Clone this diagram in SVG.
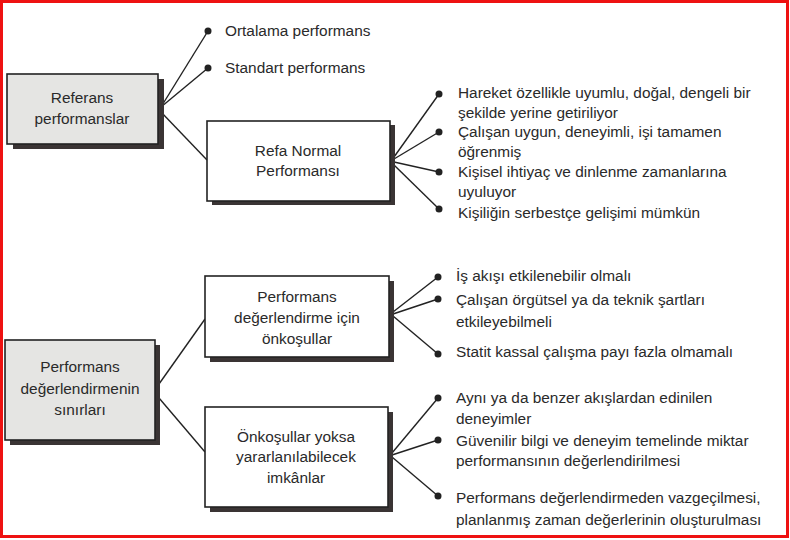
<svg xmlns="http://www.w3.org/2000/svg" width="790" height="540" viewBox="0 0 790 540">
<style>
text{font-family:"Liberation Sans","DejaVu Sans",sans-serif;font-size:15.4px;fill:#2a2a2a}
.c{text-anchor:middle}
.box{stroke:#222;stroke-width:1.6}
.gray{fill:#e5e5e3}
.white{fill:#ffffff}
.shadow{fill:#3a3434}
.ln{stroke:#222;stroke-width:1.4;fill:none}
.dot{fill:#222}
</style>
<rect x="0" y="0" width="790" height="540" fill="#ffffff"/>
<rect x="1.5" y="1.5" width="786" height="535" fill="none" stroke="#ee1111" stroke-width="3"/>

<g id="connectors">
  <line class="ln" x1="161" y1="107" x2="208" y2="31"/>
  <line class="ln" x1="161" y1="107" x2="208" y2="68"/>
  <line class="ln" x1="161" y1="112" x2="207" y2="160"/>
  <line class="ln" x1="394" y1="157" x2="439" y2="94"/>
  <line class="ln" x1="394" y1="159" x2="439" y2="132"/>
  <line class="ln" x1="394" y1="162" x2="439" y2="172"/>
  <line class="ln" x1="394" y1="165" x2="439" y2="209"/>
  <line class="ln" x1="159" y1="384" x2="205" y2="319"/>
  <line class="ln" x1="159" y1="398" x2="205" y2="452"/>
  <line class="ln" x1="393" y1="312" x2="438" y2="277"/>
  <line class="ln" x1="393" y1="314" x2="438" y2="299"/>
  <line class="ln" x1="393" y1="316" x2="438" y2="354"/>
  <line class="ln" x1="392" y1="453" x2="438" y2="398"/>
  <line class="ln" x1="392" y1="455" x2="438" y2="440"/>
  <line class="ln" x1="392" y1="457" x2="438" y2="496"/>
  <circle class="dot" cx="208" cy="31" r="3.5"/>
  <circle class="dot" cx="208" cy="68" r="3.5"/>
  <circle class="dot" cx="439" cy="94" r="3.5"/>
  <circle class="dot" cx="439" cy="132" r="3.5"/>
  <circle class="dot" cx="439" cy="172" r="3.5"/>
  <circle class="dot" cx="439" cy="209" r="3.5"/>
  <circle class="dot" cx="438" cy="277" r="3.5"/>
  <circle class="dot" cx="438" cy="299" r="3.5"/>
  <circle class="dot" cx="438" cy="354" r="3.5"/>
  <circle class="dot" cx="438" cy="398" r="3.5"/>
  <circle class="dot" cx="438" cy="440" r="3.5"/>
  <circle class="dot" cx="438" cy="496" r="3.5"/>
</g>

<g id="referans">
  <rect class="shadow" x="13" y="79" width="151" height="70"/>
  <rect class="box gray" x="7" y="74" width="151" height="70"/>
  <text class="c" x="82" y="103">Referans</text>
  <text class="c" x="82" y="124">performanslar</text>
</g>

<g id="ortalama"><text x="225" y="36">Ortalama performans</text></g>
<g id="standart"><text x="225" y="73">Standart performans</text></g>

<g id="refa">
  <rect class="shadow" x="212" y="125" width="183" height="80"/>
  <rect class="box white" x="207" y="121" width="183" height="80"/>
  <text class="c" x="298" y="156">Refa Normal</text>
  <text class="c" x="298" y="176">Performansı</text>
</g>

<g id="refa-items">
  <text x="458" y="98">Hareket özellikle uyumlu, doğal, dengeli bir</text>
  <text x="458" y="118">şekilde yerine getiriliyor</text>
  <text x="458" y="137">Çalışan uygun, deneyimli, işi tamamen</text>
  <text x="458" y="157">öğrenmiş</text>
  <text x="458" y="177">Kişisel ihtiyaç ve dinlenme zamanlarına</text>
  <text x="458" y="197">uyuluyor</text>
  <text x="458" y="218">Kişiliğin serbestçe gelişimi mümkün</text>
</g>

<g id="sinirlar">
  <rect class="shadow" x="10" y="345" width="150" height="100"/>
  <rect class="box gray" x="5" y="340" width="150" height="100"/>
  <text class="c" x="80" y="372">Performans</text>
  <text class="c" x="80" y="394">değerlendirmenin</text>
  <text class="c" x="80" y="415">sınırları</text>
</g>

<g id="onkosullar">
  <rect class="shadow" x="210" y="281" width="184" height="81"/>
  <rect class="box white" x="205" y="276" width="184" height="81"/>
  <text class="c" x="297" y="302">Performans</text>
  <text class="c" x="297" y="323">değerlendirme için</text>
  <text class="c" x="297" y="344">önkoşullar</text>
</g>

<g id="onkosullar-items">
  <text x="456" y="281">İş akışı etkilenebilir olmalı</text>
  <text x="456" y="305">Çalışan örgütsel ya da teknik şartları</text>
  <text x="456" y="327">etkileyebilmeli</text>
  <text x="456" y="357">Statit kassal çalışma payı fazla olmamalı</text>
</g>

<g id="imkanlar">
  <rect class="shadow" x="210" y="412" width="183" height="100"/>
  <rect class="box white" x="205" y="407" width="183" height="100"/>
  <text class="c" x="296" y="442">Önkoşullar yoksa</text>
  <text class="c" x="296" y="462">yararlanılabilecek</text>
  <text class="c" x="296" y="483">imkânlar</text>
</g>

<g id="imkanlar-items">
  <text x="456" y="403">Aynı ya da benzer akışlardan edinilen</text>
  <text x="456" y="424">deneyimler</text>
  <text x="456" y="446">Güvenilir bilgi ve deneyim temelinde miktar</text>
  <text x="456" y="466">performansının değerlendirilmesi</text>
  <text x="456" y="503">Performans değerlendirmeden vazgeçilmesi,</text>
  <text x="456" y="525">planlanmış zaman değerlerinin oluşturulması</text>
</g>
</svg>
